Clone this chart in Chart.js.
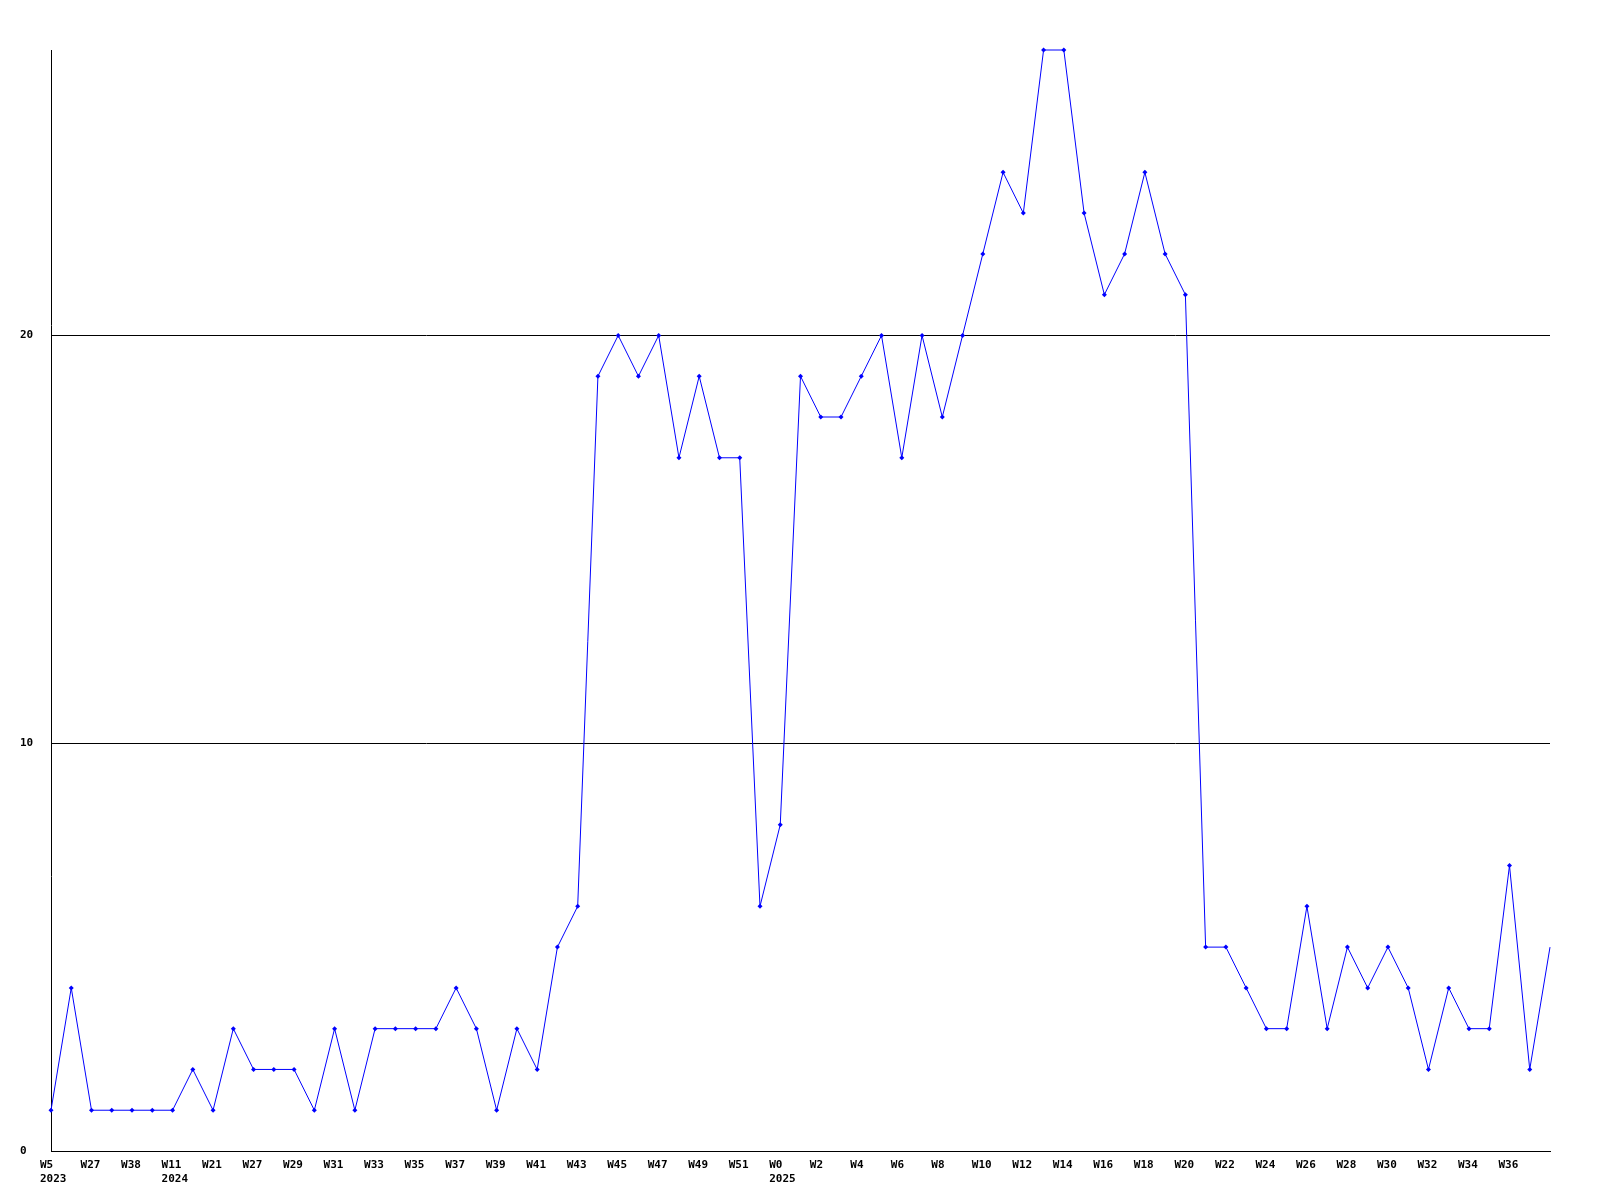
<!DOCTYPE html>
<html>
<head>
<meta charset="utf-8">
<script src="https://cdn.jsdelivr.net/npm/chart.js@4"></script>
<style>
  html, body { margin: 0; padding: 0; background: #fff; }
  #wrap { width: 1600px; height: 1200px; }
</style>
</head>
<body>
<div id="wrap"><canvas id="graph" width="1600" height="1200"></canvas></div>
<script>
let ctx = document.getElementById("graph").getContext('2d');

// week labels, one per point (only every other one is printed)
const weeks = [
  'W5', 'W26', 'W27', 'W37', 'W38', 'W10', 'W11', 'W20', 'W21', 'W26',
  'W27', 'W28', 'W29', 'W30', 'W31', 'W32', 'W33', 'W34', 'W35', 'W36',
  'W37', 'W38', 'W39', 'W40', 'W41', 'W42', 'W43', 'W44', 'W45', 'W46',
  'W47', 'W48', 'W49', 'W50', 'W51', 'W52', 'W0', 'W1', 'W2', 'W3',
  'W4', 'W5', 'W6', 'W7', 'W8', 'W9', 'W10', 'W11', 'W12', 'W13',
  'W14', 'W15', 'W16', 'W17', 'W18', 'W19', 'W20', 'W21', 'W22', 'W23',
  'W24', 'W25', 'W26', 'W27', 'W28', 'W29', 'W30', 'W31', 'W32', 'W33',
  'W34', 'W35', 'W36', 'W37', 'W38'
];
const yearAt = [0, 6, 36];
const yearNames = ['2023', '2024', '2025'];

const counts = [
  1, 4, 1, 1, 1, 1, 1, 2, 1, 3,
  2, 2, 2, 1, 3, 1, 3, 3, 3, 3,
  4, 3, 1, 3, 2, 5, 6, 19, 20, 19,
  20, 17, 19, 17, 17, 6, 8, 19, 18, 18,
  19, 20, 17, 20, 18, 20, 22, 24, 23, 27,
  27, 23, 21, 22, 24, 22, 21, 5, 5, 4,
  3, 3, 6, 3, 5, 4, 5, 4, 2, 4,
  3, 3, 7, 2, 5
];

const yTicks = [0, 10, 20];
const yMax = 27;

const labels = weeks.map((w, i) => {
    const k = yearAt.indexOf(i);
    return k >= 0 ? [w, yearNames[k]] : w;
});

const tickFont = { family: '"DejaVu Sans Mono", monospace', size: 11, weight: 'bold' };
const last = counts.length - 1;

new Chart(ctx, {
    type: 'line',
    data: {
        labels: labels,
        datasets: [{
            data: counts,
            borderColor: '#0000ff',
            backgroundColor: '#0000ff',
            borderWidth: 1,
            tension: 0,
            pointStyle: 'rectRot',
            pointRadius: (c) => c.dataIndex === last ? 0 : 2.5,
            pointBorderWidth: 0,
            clip: false
        }]
    },
    options: {
        responsive: false,
        animation: false,
        devicePixelRatio: 1,
        layout: { padding: { top: 50, right: 50, left: 20, bottom: 0 } },
        plugins: { legend: { display: false }, tooltip: { enabled: false } },
        scales: {
            x: {
                offset: false,
                grid: { display: false, drawTicks: false },
                border: { color: '#000', width: 1 },
                afterFit: (s) => { s.height = 49; },
                ticks: {
                    autoSkip: false,
                    maxRotation: 0,
                    minRotation: 0,
                    align: 'start',
                    labelOffset: -11,
                    padding: 8,
                    color: '#000',
                    font: tickFont,
                    callback: function (v, i) {
                        return (i % 2 === 0 && i < last) ? this.getLabelForValue(v) : '';
                    }
                }
            },
            y: {
                min: 0,
                max: yMax,
                afterBuildTicks: (s) => { s.ticks = yTicks.map((v) => ({ value: v })); },
                afterFit: (s) => { s.width = 31; },
                grid: {
                    color: (c) => c.tick && c.tick.value === 0 ? 'rgba(0,0,0,0)' : '#000',
                    lineWidth: 1,
                    drawTicks: false
                },
                border: { color: '#000', width: 1 },
                ticks: {
                    crossAlign: 'far',
                    padding: 0,
                    color: '#000',
                    font: tickFont
                }
            }
        }
    }
});
</script>
</body>
</html>
